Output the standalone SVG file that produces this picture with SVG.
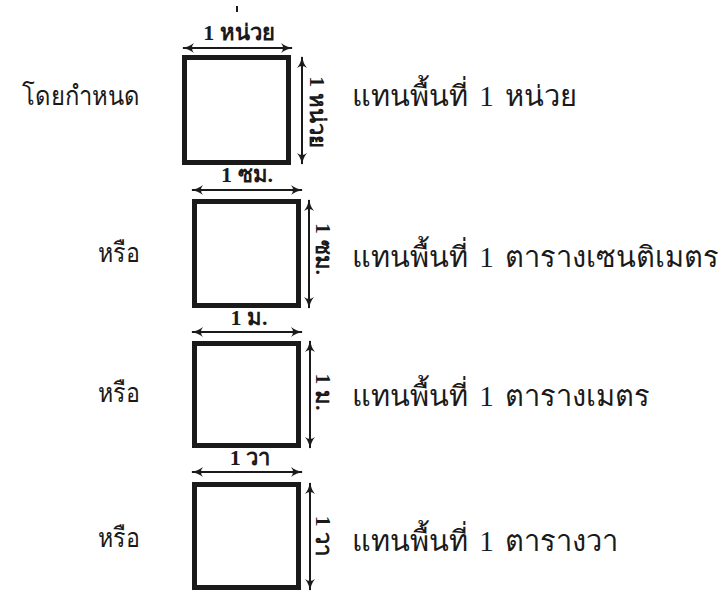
<svg xmlns="http://www.w3.org/2000/svg" width="725" height="592" viewBox="0 0 725 592">
<style>
.box{fill:#fff;stroke:#1a1a1a;stroke-width:5}
.dim{stroke:#1a1a1a;stroke-width:2;fill:none;marker-start:url(#ah);marker-end:url(#ah)}
.lbl{font-family:"Liberation Serif",serif;font-weight:bold;font-size:22px;fill:#1a1a1a;text-anchor:middle}
.left{font-family:"Noto Sans",sans-serif;font-size:27px;fill:#1a1a1a;text-anchor:end}
.right{font-family:"Liberation Serif",serif;font-size:29px;word-spacing:4px;fill:#1a1a1a}
</style>
<defs>
<marker id="ah" viewBox="0 0 12 10" refX="11" refY="5" markerWidth="12" markerHeight="10" markerUnits="userSpaceOnUse" orient="auto-start-reverse">
<path d="M0,0 Q5,4 12,5 Q5,6 0,10 Q4,5 0,0Z" fill="#1a1a1a"/>
</marker>
</defs>
<g id="row1">
<text class="left" x="140" y="105" textLength="118" lengthAdjust="spacingAndGlyphs">โดยกำหนด</text>
<rect class="box" x="184.5" y="57.5" width="104" height="105"/>
<text class="lbl" x="239" y="40">1 หน่วย</text>
<text class="lbl" transform="translate(310,112) rotate(90)">1 หน่วย</text>
<rect x="236" y="6" width="2" height="6" fill="#1a1a1a"/>
<rect x="312" y="137" width="2" height="5" fill="#1a1a1a"/>
<text class="right" x="352" y="106">แทนพื้นที่ 1 หน่วย</text>
</g>
<g id="row2">
<text class="left" x="140" y="262" textLength="42" lengthAdjust="spacingAndGlyphs">หรือ</text>
<rect class="box" x="194.5" y="201.5" width="104" height="104"/>
<text class="lbl" x="247" y="182">1 ซม.</text>
<text class="lbl" transform="translate(316,249) rotate(90)">1 ซม.</text>
<text class="right" x="352" y="267">แทนพื้นที่ 1 ตารางเซนติเมตร</text>
</g>
<g id="row3">
<text class="left" x="140" y="402" textLength="42" lengthAdjust="spacingAndGlyphs">หรือ</text>
<rect class="box" x="194.5" y="343.5" width="104" height="102"/>
<text class="lbl" x="249" y="325">1 ม.</text>
<text class="lbl" transform="translate(316,392) rotate(90)">1 ม.</text>
<text class="right" x="352" y="406">แทนพื้นที่ 1 ตารางเมตร</text>
</g>
<g id="row4">
<text class="left" x="140" y="547" textLength="42" lengthAdjust="spacingAndGlyphs">หรือ</text>
<rect class="box" x="194.5" y="484.5" width="104" height="103"/>
<text class="lbl" x="250" y="465">1 วา</text>
<text class="lbl" transform="translate(316,536) rotate(90)">1 วา</text>
<text class="right" x="352" y="551">แทนพื้นที่ 1 ตารางวา</text>
</g>
<g id="connectors">
<line class="dim" x1="183" y1="48" x2="292" y2="48"/>
<line class="dim" x1="302" y1="57" x2="302" y2="164"/>
<line class="dim" x1="192" y1="190" x2="302" y2="190"/>
<line class="dim" x1="309" y1="200" x2="309" y2="308"/>
<line class="dim" x1="192" y1="332" x2="302" y2="332"/>
<line class="dim" x1="310" y1="341" x2="310" y2="448"/>
<line class="dim" x1="192" y1="472" x2="302" y2="472"/>
<line class="dim" x1="310" y1="483" x2="310" y2="590"/>
</g>
</svg>
